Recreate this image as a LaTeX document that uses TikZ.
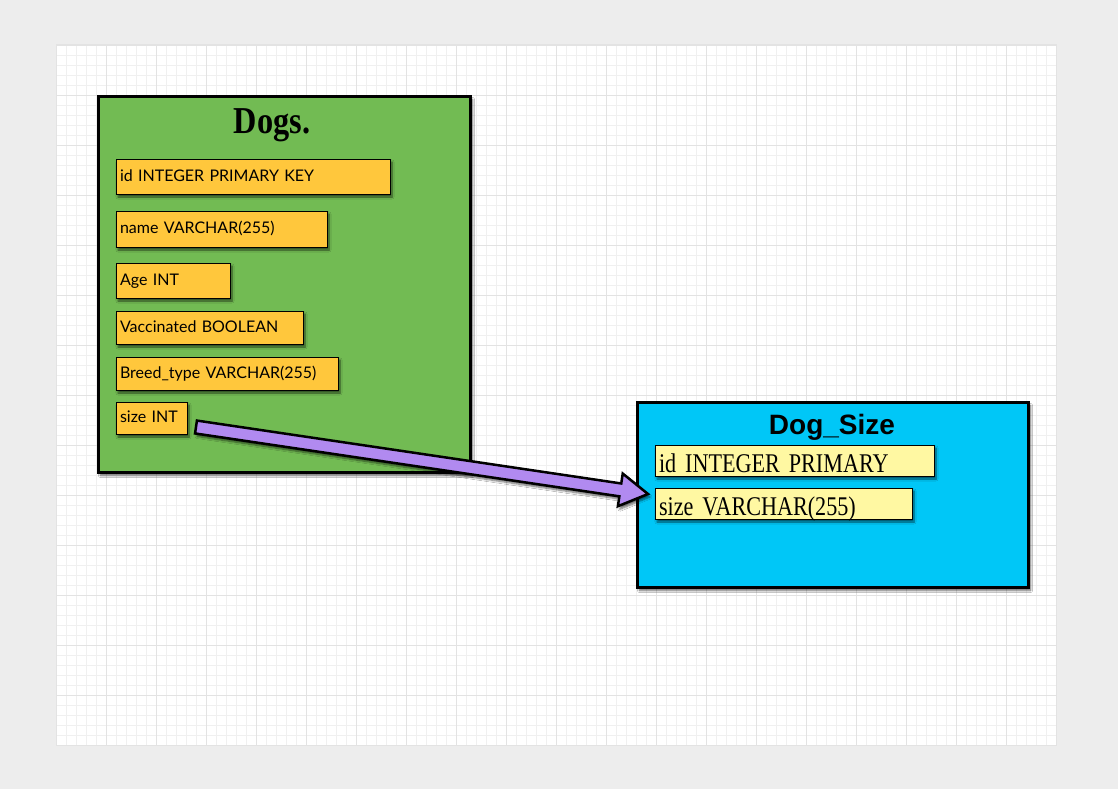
\documentclass[tikz,border=0pt]{standalone}
\usepackage{fontspec}
\setmainfont{Lato}
\newfontfamily\titlefont[FakeStretch=0.85]{Liberation Serif}
\newfontfamily\fieldfont[FakeStretch=0.82]{Liberation Serif}
\newfontfamily\boldsans{Liberation Sans}
\usetikzlibrary{calc,shadows.blur}
\definecolor{bgcol}{HTML}{EDEDED}
\definecolor{gridminor}{HTML}{F0F0F0}
\definecolor{gridmajor}{HTML}{E3E3E3}
\definecolor{dgreen}{HTML}{72BB53}
\definecolor{forange}{HTML}{FFC73C}
\definecolor{dcyan}{HTML}{00C7F7}
\definecolor{fyellow}{HTML}{FFF8A2}
\definecolor{apurple}{HTML}{B18AF0}
\tikzset{
  myshadow/.style={blur shadow={shadow xshift=2pt, shadow yshift=-3pt, shadow blur steps=6, shadow opacity=60}},
  tablebox/.style={draw=black, line width=3pt, anchor=north west, outer sep=0pt, inner sep=0pt, myshadow},
  dogfield/.style={draw=black, line width=1pt, fill=forange, anchor=north west, outer sep=0pt,
    inner xsep=4pt, inner ysep=0pt, align=left, text height=12pt, text depth=3pt,
    font=\fontsize{16}{19}\selectfont, myshadow},
  sizefield/.style={draw=black, line width=1pt, fill=fyellow, anchor=north west, outer sep=0pt,
    inner xsep=4pt, inner ysep=0pt, align=left, text height=23.5pt, text depth=0pt,
    font=\fieldfont\fontsize{27}{29}\selectfont, myshadow},
  fkarrow/.style={draw=black, line width=2.5pt, fill=apurple, line join=miter, myshadow}
}
\begin{document}
\begin{tikzpicture}[x=1pt,y=-1pt]
\useasboundingbox (0,0) rectangle (1118,789);
\fill[bgcol] (0,0) rectangle (1118,789);
% canvas
\fill[white] (56,45) rectangle (1056,745);
\foreach \i in {0,...,100} {\draw[gridminor, line width=0.8pt] (56+10*\i,45) -- (56+10*\i,745);}
\foreach \j in {0,...,70} {\draw[gridminor, line width=0.8pt] (56,45+10*\j) -- (1056,45+10*\j);}
\foreach \i in {0,...,20} {\draw[gridmajor, line width=0.8pt] (56+50*\i,45) -- (56+50*\i,745);}
\foreach \j in {0,...,14} {\draw[gridmajor, line width=0.8pt] (56,45+50*\j) -- (1056,45+50*\j);}
\draw[gridmajor, line width=1pt] (56,45) rectangle (1056,745);

% Dogs table
\node[tablebox, fill=dgreen, minimum width=372pt, minimum height=376pt] (dogs) at (98.5,96.5) {};
\node[anchor=base, font=\titlefont\bfseries\fontsize{38}{40}\selectfont] (dogstitle) at (272,133) {Dogs.};
\node[dogfield, text width=266pt, minimum height=35pt] (fid) at (116,159) {id INTEGER PRIMARY KEY};
\node[dogfield, text width=203pt, minimum height=36pt] (fname) at (116,211) {name VARCHAR(255)};
\node[dogfield, text width=106pt, minimum height=35pt] (fage) at (116,263) {Age INT};
\node[dogfield, text width=179pt, minimum height=33pt] (fvacc) at (116,311) {Vaccinated BOOLEAN};
\node[dogfield, text width=214pt, minimum height=33pt] (fbreed) at (116,357) {Breed\_type VARCHAR(255)};
\node[dogfield, text width=63pt, minimum height=32pt] (fsize) at (116,402) {size INT};

% Dog_Size table
\node[tablebox, fill=dcyan, minimum width=391pt, minimum height=185pt] (dsize) at (637.5,402.5) {};
\node[anchor=base, font=\boldsans\bfseries\fontsize{28}{30}\selectfont] (dstitle) at (832,434) {Dog\_Size};
\node[sizefield, text width=271pt, minimum height=31pt] (did) at (655,445) {id INTEGER PRIMARY};
\node[sizefield, text width=249pt, minimum height=31pt] (dvar) at (655,488) {size VARCHAR(255)};

% arrow
\coordinate (as) at ($(fsize.east)+(9,9)$);
\coordinate (ae) at ($(dvar.west)+(-7,-9.5)$);
\coordinate (hb) at ($(ae)!28pt!(as)$);
\path[fkarrow]
  ($(as)!6.5pt!90:(ae)$) -- ($(hb)!6.5pt!90:(ae)$) -- ($(hb)!16.5pt!90:(ae)$) -- (ae)
  -- ($(hb)!16.5pt!-90:(ae)$) -- ($(hb)!6.5pt!-90:(ae)$) -- ($(as)!6.5pt!-90:(ae)$) -- cycle;
\end{tikzpicture}
\end{document}
